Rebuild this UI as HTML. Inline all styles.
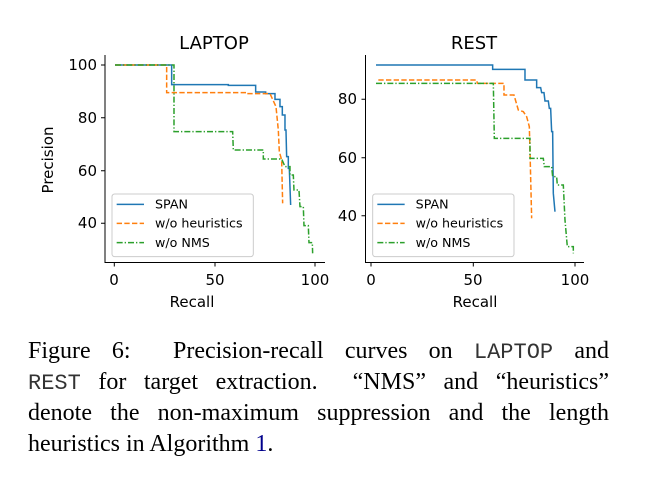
<!DOCTYPE html>
<html><head><style>
body{margin:0;background:#fff;width:659px;height:483px;overflow:hidden;position:relative}
.cap{position:absolute;left:28px;width:581px;font-family:"Liberation Serif",serif;font-size:24px;text-align:justify;text-align-last:justify;white-space:nowrap;line-height:26px}
.cap.l{text-align-last:left}
.m{font-family:"Liberation Mono",monospace;font-size:22px;color:#333}
</style></head><body>
<svg width="659" height="330" style="position:absolute;left:0;top:0" font-family="DejaVu Sans, Liberation Sans, sans-serif">
<g fill="#000" font-size="18" text-anchor="middle">
<text x="214" y="49">LAPTOP</text><text x="474" y="49">REST</text>
</g>
<g stroke="#000" stroke-width="1" fill="none">
<path d="M105,55V262.5H325"/><path d="M365.5,55V262.5H584"/>
<path d="M114.3,262.5v4M215,262.5v4M315,262.5v4M101,65h4M101,117.7h4M101,170.7h4M101,223.3h4"/>
<path d="M371,262.5v4M473.3,262.5v4M575,262.5v4M361.5,99.3h4M361.5,157.7h4M361.5,215.7h4"/>
</g>
<g font-size="15" fill="#000" text-anchor="middle">
<text x="114" y="285">0</text><text x="215" y="285">50</text><text x="315" y="285">100</text>
<text x="371" y="285">0</text><text x="473" y="285">50</text><text x="575" y="285">100</text>
<text x="192" y="307">Recall</text><text x="475" y="307">Recall</text>
<text transform="translate(53,160) rotate(-90)">Precision</text>
</g>
<g font-size="15" fill="#000" text-anchor="end">
<text x="97" y="70">100</text><text x="97" y="123">80</text><text x="97" y="176">60</text><text x="97" y="228">40</text>
<text x="357" y="104">80</text><text x="357" y="163">60</text><text x="357" y="221">40</text>
</g>
<g transform="translate(100,50) scale(0.3333)" fill="none" stroke-width="4.5">
<path stroke="#1f77b4" d="M45,45H215V104H385V106H467V126H497V131H525V148H540V170H547V195H555V240H558L560,320H565V355H568L572,465"/>
<path stroke="#ff7f0e" stroke-dasharray="16,7" d="M45,45H200V128H440V131H510L518,148L528,170L535,240L538,305L545,330L548,460"/>
<path stroke="#2ca02c" stroke-dasharray="18,6,4,6" d="M45,45H222V245H398L400,300H490V327H545L555,350H570V375H580L582,420H597L600,470H610L612,527H625L627,578H637L638,610"/>
<rect x="36" y="432" width="424" height="188" rx="8" fill="#fff" fill-opacity="0.8" stroke="#ccc" stroke-width="3"/>
<path stroke="#1f77b4" d="M50,463H132"/><path stroke="#ff7f0e" stroke-dasharray="16,7" d="M50,520H132"/><path stroke="#2ca02c" stroke-dasharray="18,6,4,6" d="M50,578H132"/>
<g fill="#000" stroke="none" font-size="38"><text x="165" y="476">SPAN</text><text x="165" y="533">w/o heuristics</text><text x="165" y="591">w/o NMS</text></g>
</g>
<g transform="translate(360,50) scale(0.3333)" fill="none" stroke-width="4.5">
<path stroke="#1f77b4" d="M48,45H398V58H495V90H530V113H542L545,128H552L555,153H565L568,175H572L575,245H578L580,430L585,485"/>
<path stroke="#ff7f0e" stroke-dasharray="16,7" d="M55,90H350L352,100H432V135H462L475,180L490,185L500,200L508,230L510,300L515,505"/>
<path stroke="#2ca02c" stroke-dasharray="18,6,4,6" d="M48,100H400L403,265H510V325H550L553,350H575L578,380H590L592,405H610L615,510L622,590H640V610"/>
<rect x="38" y="432" width="424" height="188" rx="8" fill="#fff" fill-opacity="0.8" stroke="#ccc" stroke-width="3"/>
<path stroke="#1f77b4" d="M52,463H134"/><path stroke="#ff7f0e" stroke-dasharray="16,7" d="M52,520H134"/><path stroke="#2ca02c" stroke-dasharray="18,6,4,6" d="M52,578H134"/>
<g fill="#000" stroke="none" font-size="38"><text x="167" y="476">SPAN</text><text x="167" y="533">w/o heuristics</text><text x="167" y="591">w/o NMS</text></g>
</g>
</svg>
<div class="cap" style="top:338px">Figure 6:&nbsp; Precision-recall curves on <span class="m">LAPTOP</span> and</div>
<div class="cap" style="top:369px"><span class="m">REST</span> for target extraction.&nbsp; “NMS” and “heuristics”</div>
<div class="cap" style="top:400px">denote the non-maximum suppression and the length</div>
<div class="cap l" style="top:431px">heuristics in Algorithm <span style="color:#00008b">1</span>.</div>
</body></html>
